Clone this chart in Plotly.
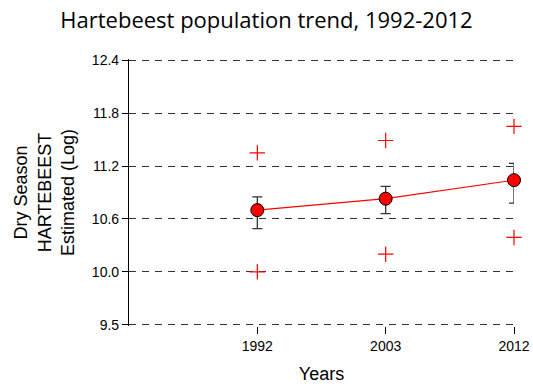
import plotly.graph_objects as go

# Survey years and log-scale population estimates
years = ["1992", "2003", "2012"]
mean_est = [10.70, 10.83, 11.04]
ci_upper = [10.85, 10.97, 11.23]
ci_lower = [10.49, 10.66, 10.78]
obs_high = [11.35, 11.49, 11.65]
obs_low = [10.00, 10.20, 10.39]

y_ticks = [9.4, 10.0, 10.6, 11.2, 11.8, 12.4]
y_tick_labels = ["9.5", "10.0", "10.6", "11.2", "11.8", "12.4"]

err_plus = [u - m for u, m in zip(ci_upper, mean_est)]
err_minus = [m - l for m, l in zip(mean_est, ci_lower)]

fig = go.Figure()

# Observed extremes as red crosses
fig.add_trace(go.Scatter(
    x=years + years, y=obs_high + obs_low, mode="markers",
    marker=dict(symbol="cross-thin", size=11, line=dict(color="#ff0000", width=1.2)),
    showlegend=False, hoverinfo="skip", cliponaxis=False,
))

# Trend line with error bars
fig.add_trace(go.Scatter(
    x=years, y=mean_est, mode="lines+markers",
    line=dict(color="#ff0000", width=1.2),
    marker=dict(symbol="circle", size=13, color="#ff0000", line=dict(color="#000000", width=1)),
    error_y=dict(type="data", symmetric=False, array=err_plus, arrayminus=err_minus,
                 color="#333333", thickness=1.3, width=5),
    showlegend=False, cliponaxis=False,
))

fig.update_layout(
    width=533, height=384,
    margin=dict(l=129, r=19, t=59, b=58),
    paper_bgcolor="white", plot_bgcolor="white",
    title=dict(text="Hartebeest population trend, 1992-2012",
               font=dict(family="Open Sans, Lato, sans-serif", size=22, color="#000"),
               x=0.5, xanchor="center", y=0.948, yanchor="middle"),
    font=dict(family="Liberation Sans, Arial, sans-serif", color="#000"),
)

fig.update_xaxes(
    type="category", range=[-1, 2], automargin=False,
    showgrid=False, zeroline=False, showline=False,
    ticks="outside", ticklen=7, tickcolor="#000", tickwidth=1,
    tickfont=dict(size=14),
    title=dict(text="Years", font=dict(size=18), standoff=14),
)

fig.update_yaxes(
    range=[9.385, 12.415], tickvals=y_ticks, ticktext=y_tick_labels, automargin=False,
    showgrid=True, gridcolor="#333333", gridwidth=1, griddash="7px,6px",
    zeroline=False, showline=True, linecolor="#000", linewidth=1.2,
    ticks="outside", ticklen=6, tickcolor="#000", tickwidth=1,
    tickfont=dict(size=14),
    title=dict(text="Dry Season<br>HARTEBEEST<br>Estimated (Log)", font=dict(size=18), standoff=12),
)

fig.write_html("out.html")
